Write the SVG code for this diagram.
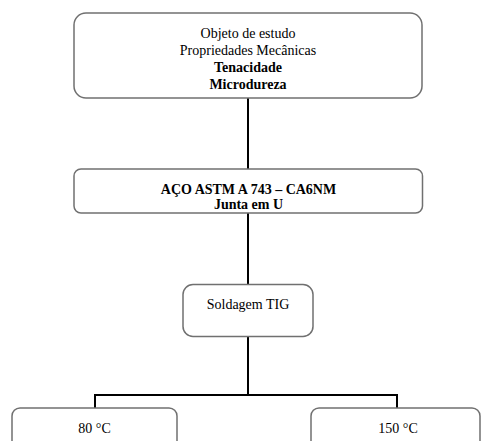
<svg xmlns="http://www.w3.org/2000/svg" width="481" height="441" viewBox="0 0 481 441">
<style>
.box{fill:#fff;stroke:#707070;stroke-width:1.5}
.t{font-family:"Liberation Serif","Times New Roman",serif;font-size:14px;fill:#000;text-anchor:middle}
.b{font-weight:bold}
.c{fill:none;stroke:#000;stroke-width:2}
</style>
<rect width="481" height="441" fill="#fff"/>
<g id="connectors">
<line class="c" x1="248" y1="98" x2="248" y2="169"/>
<line class="c" x1="248" y1="213" x2="248" y2="284"/>
<line class="c" x1="248" y1="337" x2="248" y2="395"/>
<polyline class="c" points="95,408 95,395 397,395 397,408"/>
</g>
<g id="n1">
<rect class="box" x="74" y="13" width="348" height="85" rx="12"/>
<text class="t" x="248" y="38">Objeto de estudo</text>
<text class="t" x="248" y="55">Propriedades Mecânicas</text>
<text class="t b" x="248" y="72">Tenacidade</text>
<text class="t b" x="248" y="89">Microdureza</text>
</g>
<g id="n2">
<rect class="box" x="74" y="169" width="348.5" height="44" rx="7"/>
<text class="t b" x="248.5" y="194">AÇO ASTM A 743 – CA6NM</text>
<text class="t b" x="248.5" y="209">Junta em U</text>
</g>
<g id="n3">
<rect class="box" x="183" y="284.5" width="130" height="52" rx="10"/>
<text class="t" x="248" y="309">Soldagem TIG</text>
</g>
<g id="n4">
<rect class="box" x="12" y="408" width="165" height="45" rx="8"/>
<text class="t" x="94.5" y="433">80 °C</text>
</g>
<g id="n5">
<rect class="box" x="311" y="408" width="169" height="45" rx="8"/>
<text class="t" x="398" y="433">150 °C</text>
</g>
</svg>
